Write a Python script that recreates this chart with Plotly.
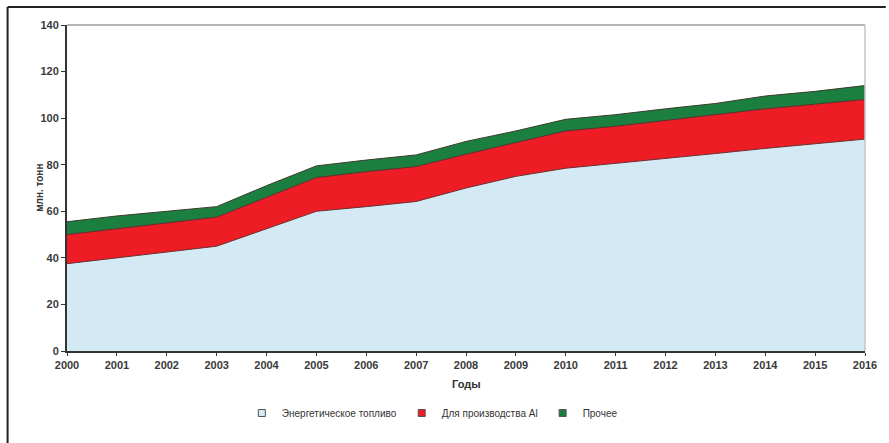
import plotly.graph_objects as go

years = list(range(2000, 2017))
energy_fuel = [37.5, 40, 42.5, 45, 52.5, 60, 62, 64.2, 70, 75, 78.5, 80.5, 82.5, 84.8, 87, 89, 91]
for_aluminium = [12.5, 12.5, 12.5, 12.5, 13.5, 14.5, 15, 15, 14.5, 14.5, 16, 16, 16.5, 16.5, 17, 17, 17]
other = [5.5, 5.5, 5, 4.5, 5, 5, 5, 5, 5.5, 5, 5, 5, 5, 5, 5.5, 5.5, 6]

series_names = ["Энергетическое топливо", "Для производства Al", "Прочее"]
y_ticks = [0, 20, 40, 60, 80, 100, 120, 140]

W, H = 889, 443
ML, MR, MT, MB = 67, 16, 25, 92
PW, PH = W - ML - MR, H - MT - MB


def px_x(p):
    return (p - ML) / PW


def px_y(p):
    return (H - MB - p) / PH


FONT = "Liberation Sans, Arial, sans-serif"
fig = go.Figure()
fills = ["#d3eaf4", "#ee1c25", "#1b803f"]
edges = ["#6a3030", "#5a2a2a", "#3a3a2a"]
for name, vals, col, edge in zip(series_names, [energy_fuel, for_aluminium, other], fills, edges):
    fig.add_trace(go.Scatter(
        x=years, y=vals, name=name, stackgroup="one", mode="lines",
        line=dict(color=edge, width=1), fillcolor=col, showlegend=False,
    ))

# legend entries drawn as small square swatches
for name, col in zip(series_names, fills):
    fig.add_trace(go.Scatter(
        x=[None], y=[None], name=name, mode="markers",
        marker=dict(symbol="square", size=7, color=col, line=dict(color="#555", width=1)),
    ))

tick_font = dict(family=FONT, size=11, color="#3a3a3a")
fig.update_layout(
    width=W, height=H,
    margin=dict(l=ML, r=MR, t=MT, b=MB),
    paper_bgcolor="white", plot_bgcolor="white",
    showlegend=True,
    legend=dict(orientation="h", x=px_x(436), xanchor="center", y=px_y(413), yanchor="middle",
                font=dict(family=FONT, size=10, color="#333"),
                itemwidth=30, traceorder="normal", tracegroupgap=0),
    xaxis=dict(range=[2000, 2016], tickmode="array", tickvals=years,
               ticktext=[f"<b>{y}</b>" for y in years], showgrid=False, zeroline=False,
               showline=True, linecolor="#333", linewidth=2, ticks="outside",
               ticklen=3, tickcolor="#333", tickfont=tick_font),
    yaxis=dict(range=[0, 140], tickmode="array", tickvals=y_ticks,
               ticktext=[f"<b>{v}</b>" for v in y_ticks], showgrid=False, zeroline=False,
               showline=True, linecolor="#333", linewidth=2, ticks="outside",
               ticklen=4, tickcolor="#333", tickfont=tick_font),
    annotations=[
        dict(text="<b>Годы</b>", x=px_x(470), y=px_y(392), xref="paper", yref="paper",
             showarrow=False, font=dict(family=FONT, size=11, color="#333")),
        dict(text="<b>млн. тонн</b>", x=px_x(31), y=px_y(188), xref="paper", yref="paper",
             showarrow=False, textangle=-90,
             font=dict(family=FONT, size=10, color="#333")),
    ],
    shapes=[
        # outer frame (top and left edges)
        dict(type="line", xref="paper", yref="paper", x0=px_x(7), x1=px_x(W + 5),
             y0=px_y(7), y1=px_y(7), line=dict(color="#222", width=2)),
        dict(type="line", xref="paper", yref="paper", x0=px_x(7), x1=px_x(7),
             y0=px_y(7), y1=px_y(H + 5), line=dict(color="#222", width=2)),
        # light plot-area border (top and right)
        dict(type="line", xref="paper", yref="paper", x0=0, x1=1, y0=1, y1=1,
             line=dict(color="#b5b5b5", width=2)),
        dict(type="line", xref="paper", yref="paper", x0=1, x1=1, y0=0, y1=1,
             line=dict(color="#c5c5c5", width=1.5)),
    ],
)

fig.write_html("out.html")
